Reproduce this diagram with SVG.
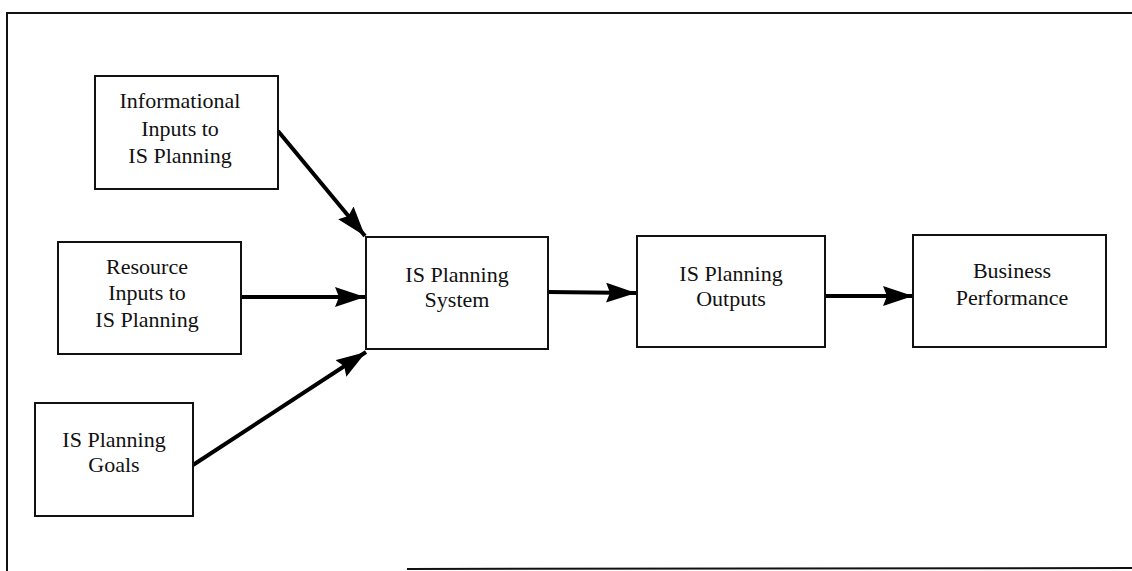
<svg xmlns="http://www.w3.org/2000/svg" width="1132" height="571" viewBox="0 0 1132 571">
  <defs>
    <style>
      .box { fill: #ffffff; stroke: #111111; stroke-width: 2; }
      .lbl { font-family: "Liberation Serif", "Times New Roman", serif; font-size: 22px; fill: #111111; text-anchor: middle; }
      .conn { stroke: #000000; stroke-width: 4; fill: none; marker-end: url(#arrow); }
      .frame { stroke: #111111; stroke-width: 2; fill: none; }
    </style>
    <marker id="arrow" markerUnits="userSpaceOnUse" markerWidth="32" markerHeight="22" refX="30" refY="10" orient="auto">
      <path d="M0,0 L30,10 L0,20 L4,10 Z" fill="#000000"/>
    </marker>
  </defs>
  <rect width="1132" height="571" fill="#ffffff"/>
  <g id="frame">
    <polyline class="frame" points="1132,13 7,13 7,571"/>
    <line class="frame" x1="407" y1="569" x2="1132" y2="568"/>
  </g>
  <g id="connectors">
    <line class="conn" x1="278" y1="131" x2="365" y2="236"/>
    <line class="conn" x1="241" y1="297" x2="365" y2="297"/>
    <line class="conn" x1="193" y1="465" x2="366" y2="352"/>
    <line class="conn" x1="548" y1="292" x2="636" y2="293"/>
    <line class="conn" x1="825" y1="296" x2="913" y2="296"/>
  </g>
  <g id="informational">
    <rect class="box" x="95" y="76" width="183" height="113"/>
    <text class="lbl" x="180" y="108">Informational</text>
    <text class="lbl" x="180" y="136">Inputs to</text>
    <text class="lbl" x="180" y="163">IS Planning</text>
  </g>
  <g id="resource">
    <rect class="box" x="58" y="242" width="183" height="112"/>
    <text class="lbl" x="147" y="274">Resource</text>
    <text class="lbl" x="147" y="300">Inputs to</text>
    <text class="lbl" x="147" y="327">IS Planning</text>
  </g>
  <g id="goals">
    <rect class="box" x="35" y="403" width="158" height="113"/>
    <text class="lbl" x="114" y="447">IS Planning</text>
    <text class="lbl" x="114" y="472">Goals</text>
  </g>
  <g id="system">
    <rect class="box" x="366" y="237" width="182" height="112"/>
    <text class="lbl" x="457" y="282">IS Planning</text>
    <text class="lbl" x="457" y="307">System</text>
  </g>
  <g id="outputs">
    <rect class="box" x="637" y="236" width="188" height="111"/>
    <text class="lbl" x="731" y="281">IS Planning</text>
    <text class="lbl" x="731" y="306">Outputs</text>
  </g>
  <g id="business">
    <rect class="box" x="913" y="235" width="193" height="112"/>
    <text class="lbl" x="1012" y="278">Business</text>
    <text class="lbl" x="1012" y="305">Performance</text>
  </g>
</svg>
